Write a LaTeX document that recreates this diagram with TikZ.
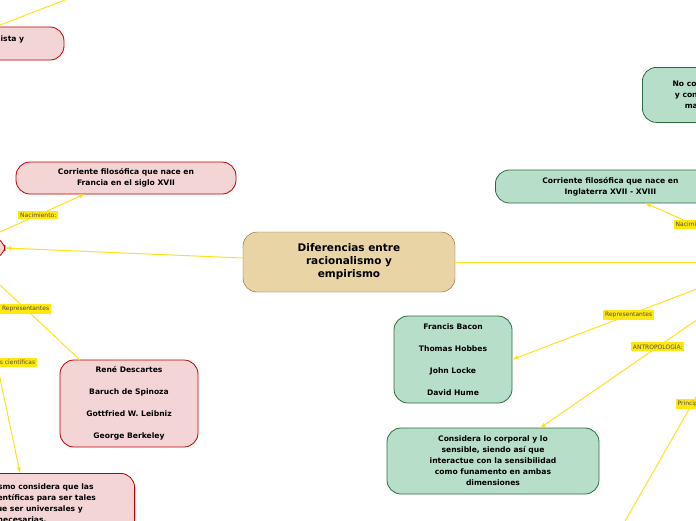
\documentclass[tikz,border=0pt]{standalone}
\usepackage{fontspec}
\setmainfont{DejaVu Sans}
\begin{document}
\begin{tikzpicture}[x=1pt,y=-1pt,
 pinkbox/.style={draw=red!75!black,fill=pinkc,rounded corners=14pt,line width=0.8pt,font=\fontsize{7.6}{11}\selectfont\bfseries,align=center,inner sep=0pt},
 greenbox/.style={draw=greenb,fill=greenc,rounded corners=14pt,line width=0.8pt,font=\fontsize{7.6}{11}\selectfont\bfseries,align=center,inner sep=0pt},
 lab/.style={fill=labc,font=\fontsize{6}{7}\selectfont,text=black!70,inner sep=1.8pt},
 conn/.style={draw=linec,line width=1pt},
 arr/.style={conn,-latex}]
\definecolor{pinkc}{HTML}{F3D5D6}
\definecolor{greenc}{HTML}{B7DEC9}
\definecolor{greenb}{HTML}{2E6B40}
\definecolor{labc}{HTML}{FFE810}
\definecolor{linec}{HTML}{FFE020}
\useasboundingbox (0,0) rectangle (696,520);
\clip (0,0) rectangle (696,520);
% title
\node[draw=brown!70!black,fill={rgb,255:red,233;green,212;blue,166},rounded corners=14pt,minimum width=212pt,minimum height=60pt,align=center,font=\fontsize{10.5}{13}\selectfont\bfseries] (t) at (349,262) {Diferencias entre\\racionalismo y\\empirismo};
% left
\node[pinkbox,minimum width=120pt,minimum height=22pt] (r) at (-55,248) {Racionalismo};
\node[pinkbox,minimum width=220pt,minimum height=33pt,text width=210pt,align=right] (top) at (-46,43.5) {Intelectualista y\rule{35pt}{0pt}\\[-2pt]\mbox{}};
\coordinate (topout) at (65,0);
\draw[conn] (0,25) -- (topout);
\node[pinkbox,minimum width=220pt,minimum height=32pt] (fr) at (126,178) {Corriente filosófica que nace en\\Francia en el siglo XVII};
\node[pinkbox,minimum width=138pt,minimum height=87pt,font=\fontsize{7.6}{22}\selectfont\bfseries] (rep1) at (129,403.5) {René Descartes\\Baruch de Spinoza\\Gottfried W. Leibniz\\George Berkeley};
\node[pinkbox,minimum width=225pt,minimum height=60pt,anchor=north east] (cien) at (135,473) {El racionalismo considera que las\\verdades científicas para ser tales\\tienen que ser universales y\\necesarias.};
\draw[arr] (t.west|-0,258) -- (r.east);
\draw[arr] (0,232) -- (85,194) node[lab,pos=0.45] {Nacimiento:};
\draw[conn] (0,285) -- (80,360) node[lab,pos=0.32] {Representantes};
\draw[arr] (-8,340) -- (20,473) node[lab,pos=0.17] {Características científicas};
% right
\node[greenbox,minimum width=130pt,minimum height=55pt,anchor=north west] (nc) at (642,67) {No conoce ideas\\y conocimiento\\manifiesto};
\node[greenbox,minimum width=230pt,minimum height=33pt,anchor=west] (ing) at (495,186.5) {Corriente filosófica que nace en\\Inglaterra XVII - XVIII};
\node[greenbox,minimum width=118pt,minimum height=87pt,font=\fontsize{7.6}{22}\selectfont\bfseries] (rep2) at (453,359.5) {Francis Bacon\\Thomas Hobbes\\John Locke\\David Hume};
\node[greenbox,minimum width=212pt,minimum height=66pt] (ant) at (493,461) {Considera lo corporal y lo\\sensible, siendo así que\\interactue con la sensibilidad\\como funamento en ambas\\dimensiones};
\coordinate (e) at (760,262);
\draw[conn] (t.east|-0,262) -- (e);
\draw[arr] (720,236) -- (645,203) node[lab,pos=0.35] {Nacimiento:};
\draw[arr] (720,280) -- (rep2.east) node[lab,pos=0.44] {Representantes};
\draw[arr] (730,297) -- (540,428) node[lab,pos=0.38] {ANTROPOLOGÍA:};
\draw[conn] (720,355) -- (620,530) node[lab,pos=0.28] {Principios};
\end{tikzpicture}
\end{document}
